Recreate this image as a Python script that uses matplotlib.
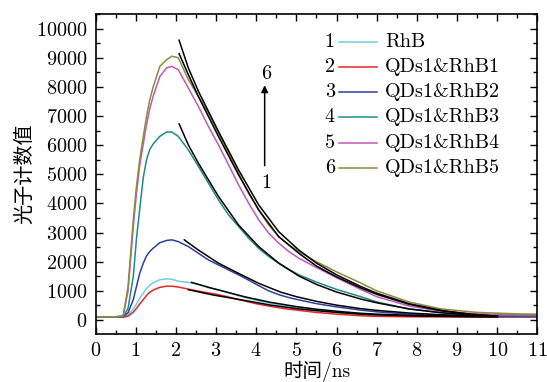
"""
Fluorescence decay curves of RhB and QDs1&RhB samples with exponential fits.
"""
import matplotlib
matplotlib.use("Agg")
from matplotlib import pyplot as plt
from matplotlib.ticker import MultipleLocator

plt.rcParams['font.family'] = ['cmr10', 'Noto Sans CJK SC', 'DejaVu Sans']
plt.rcParams['mathtext.fontset'] = 'cm'
plt.rcParams['axes.unicode_minus'] = False
plt.rcParams['axes.formatter.use_mathtext'] = True

# time axis of the measured curves (ns)
t_data = [0, 0.5, 0.69, 0.81, 0.94, 1.02, 1.1, 1.19, 1.27, 1.35, 1.44, 1.6,
          1.77, 1.9, 2.06, 2.31, 2.56, 2.81, 3.06, 3.31, 3.56, 3.81, 4.06,
          4.31, 4.56, 4.81, 5.06, 5.5, 6.0, 6.6, 7.0, 7.8, 8.6, 9.5, 10.5, 11.0]

# photon counts
rhb = [100, 100, 100, 170, 380, 550, 750, 920, 1080, 1190, 1280, 1380,
       1410, 1400, 1330, 1290, 1220, 1110, 1040, 940, 830, 740, 660,
       580, 520, 460, 420, 340, 270, 200, 170, 140, 125, 120, 115, 115]
rhb1 = [100, 100, 100, 130, 270, 400, 550, 700, 840, 950, 1030, 1120,
        1160, 1160, 1130, 1060, 990, 930, 870, 790, 700, 620, 540,
        480, 420, 370, 330, 260, 200, 145, 125, 110, 105, 100, 100, 100]
rhb2 = [100, 100, 110, 250, 700, 1150, 1600, 1950, 2200, 2350, 2470, 2650,
        2730, 2750, 2690, 2520, 2290, 2060, 1890, 1720, 1550, 1370, 1180,
        1000, 870, 770, 690, 560, 450, 340, 280, 200, 160, 130, 120, 120]
rhb3 = [100, 100, 110, 400, 1490, 2800, 3800, 4900, 5500, 5850, 6050, 6300,
        6450, 6450, 6300, 5840, 5270, 4700, 4120, 3610, 3210, 2810, 2460,
        2180, 1950, 1740, 1550, 1300, 1050, 800, 620, 380, 250, 180, 150, 150]
rhb4 = [110, 110, 140, 1000, 3200, 4350, 5300, 6050, 6700, 7250, 7700, 8350,
        8650, 8700, 8590, 7960, 7330, 6640, 6010, 5330, 4640, 4010, 3440,
        2980, 2640, 2350, 2120, 1800, 1450, 1050, 800, 480, 300, 210, 180, 180]
rhb5 = [110, 110, 150, 1150, 3440, 4600, 5500, 6300, 6990, 7550, 8020, 8700,
        8930, 9050, 9000, 8250, 7670, 7100, 6420, 5730, 5040, 4350, 3780,
        3260, 2860, 2580, 2350, 2000, 1650, 1270, 1000, 620, 380, 260, 210, 200]

# fitted decay curves (black)
t_fit1 = [2.39, 2.92, 3.76, 4.34, 5.0, 5.5, 6.0, 6.6, 7.0, 7.8, 8.6, 9.3, 10.0]
fit1 = [1290, 1080, 780, 610, 460, 370, 300, 230, 200, 160, 135, 125, 115]
t_fit2 = [2.31, 2.92, 3.76, 4.34, 5.0, 5.5, 6.0, 6.6, 7.0, 7.8, 8.6, 9.3, 10.0]
fit2 = [1040, 860, 660, 515, 390, 320, 260, 200, 175, 145, 125, 115, 110]
t_fit3 = [2.21, 2.56, 3.06, 3.56, 4.06, 4.6, 5.0, 5.5, 6.0, 6.6, 7.0, 7.8,
          8.6, 9.3, 10.0]
fit3 = [2750, 2400, 1950, 1600, 1260, 960, 800, 640, 510, 390, 330, 240,
        180, 150, 130]
t_fit = [2.08, 2.31, 2.56, 3.06, 3.56, 4.06, 4.56, 5.06, 5.5, 6.0, 6.6, 7.0,
         7.8, 8.6, 9.3, 10.0]
fit4 = [6730, 6010, 5380, 4240, 3260, 2520, 1950, 1510, 1220, 960, 720, 590,
        380, 250, 170, 130]
fit5 = [9140, 8420, 7670, 6300, 4980, 3780, 2860, 2290, 1850, 1480, 1100, 880,
        540, 320, 200, 130]
fit6 = [9600, 8650, 7850, 6470, 5150, 3950, 3030, 2400, 1950, 1550, 1150, 920,
        560, 330, 200, 130]

numbers = ['1', '2', '3', '4', '5', '6']
labels = ['RhB', 'QDs1&RhB1', 'QDs1&RhB2', 'QDs1&RhB3', 'QDs1&RhB4',
          'QDs1&RhB5']
colors = ['#6dd0e0', '#e8262a', '#2e3f9e', '#1e8b88', '#c257b4', '#8c8c3c']

series = [rhb, rhb1, rhb2, rhb3, rhb4, rhb5]
fits = [(t_fit1, fit1), (t_fit2, fit2), (t_fit3, fit3),
        (t_fit, fit4), (t_fit, fit5), (t_fit, fit6)]

fig = plt.figure(figsize=(5.47, 3.82), dpi=100)
ax = fig.add_axes([0.1746, 0.1257, 0.8080, 0.8377])

for ys, c in zip(series, colors):
    ax.plot(t_data, ys, color=c, lw=1.1, zorder=2)
for tf, yf in fits:
    ax.plot(tf, yf, color='black', lw=1.1, zorder=3)

ax.set_xlim(0, 11)
ax.set_ylim(-480, 10500)
ax.xaxis.set_major_locator(MultipleLocator(1))
ax.xaxis.set_minor_locator(MultipleLocator(0.5))
ax.yaxis.set_major_locator(MultipleLocator(1000))
ax.yaxis.set_minor_locator(MultipleLocator(500))
ax.tick_params(which='both', direction='in', top=True, right=True,
               labelsize=14.5, width=1.0)
ax.tick_params(which='major', length=5, pad=6)
ax.tick_params(which='minor', length=3)
for sp in ax.spines.values():
    sp.set_linewidth(1.2)

ax.set_xlabel('时间/ns', fontsize=14)
ax.xaxis.set_label_coords(0.5, -0.118)
ax.xaxis.label.set_va('center')
ax.set_ylabel('光子计数值', fontsize=14.5)
ax.yaxis.set_label_coords(-0.16, 0.5)
ax.yaxis.label.set_va('center')

# legend, with the curve number on the left of each handle
row_y = [0.913, 0.835, 0.757, 0.677, 0.596, 0.518]
for num, lab, c, yy in zip(numbers, labels, colors, row_y):
    ax.text(0.530, yy, num, transform=ax.transAxes, fontsize=14.5,
            ha='center', va='center')
    ax.plot([0.551, 0.637], [yy, yy], transform=ax.transAxes, color=c,
            lw=1.1)
    ax.text(0.655, yy, lab, transform=ax.transAxes, fontsize=14.5,
            ha='left', va='center')

# arrow from curve 1 to curve 6
ax.annotate('', xy=(4.21, 8150), xytext=(4.21, 5200),
            arrowprops=dict(arrowstyle='-|>', color='black', lw=1.1,
                            mutation_scale=10))
ax.text(4.25, 8450, '6', fontsize=14.5, ha='center', va='center')
ax.text(4.25, 4700, '1', fontsize=14.5, ha='center', va='center')

fig.savefig('out.png', dpi=100)
